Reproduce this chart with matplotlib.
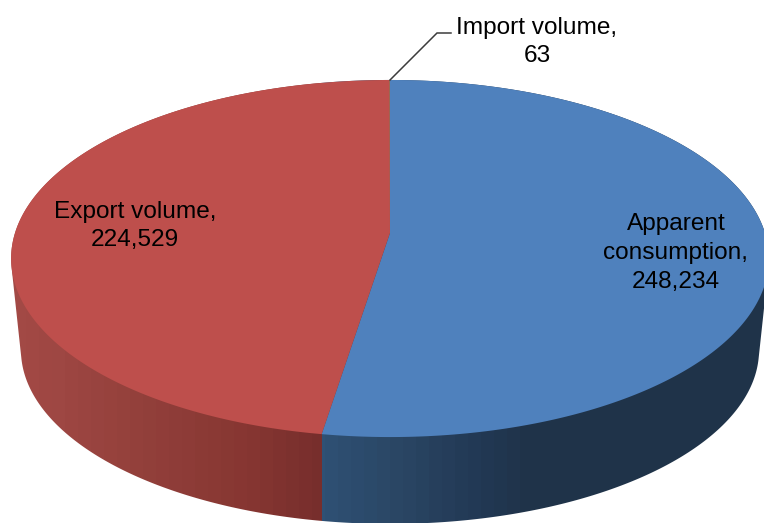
import numpy as np
import matplotlib
matplotlib.use("Agg")
import matplotlib.pyplot as plt
from matplotlib.patches import Polygon

# Data
categories = ["Apparent\nconsumption", "Export volume", "Import volume"]
values = [248234, 224529, 63]
top_colors = ["#4f81bd", "#be4f4c", "#9bbb59"]

plt.rcParams["font.family"] = ["Liberation Sans", "DejaVu Sans"]
FS = 17.55

fig = plt.figure(figsize=(7.64, 5.23), dpi=100, facecolor="white")
ax = fig.add_axes([0, 0, 1, 1])
ax.set_xlim(0, 764)
ax.set_ylim(523, 0)
ax.axis("off")

# Perspective projection of the unit disc on to the picture
X0, Y0, A, B, K = 390.0, 233.0, 375.0, -141.6, 0.1429


def top_rim(theta):
    """theta: radians clockwise from 12 o'clock"""
    X, Y = np.sin(theta), np.cos(theta)
    w = 1 + K * Y
    return X0 + A * X / w, (B * Y + Y0) / w


def bottom_rim(theta):
    x, y = top_rim(theta)
    return 390 + (x - 390) * 0.974, 350 + (y - 258.5) * 0.974


def hull(points):
    pts = sorted(map(tuple, points))

    def half(seq):
        out = []
        for p in seq:
            while len(out) >= 2 and ((out[-1][0] - out[-2][0]) * (p[1] - out[-2][1])
                                     - (out[-1][1] - out[-2][1]) * (p[0] - out[-2][0])) <= 0:
                out.pop()
            out.append(p)
        return out[:-1]

    return half(pts) + half(pts[::-1])


fractions = np.array(values, dtype=float) / np.sum(values)
edges = np.concatenate([[0], np.cumsum(fractions)]) * 2 * np.pi
split_x = top_rim(edges[1])[0]

# Side wall: one banded left-to-right shading, clipped to the silhouette of the drum
red_x = [10, 60, 140, 250, 320]
red_c = ["#a44a46", "#9e4743", "#93403b", "#863632", "#772e2c"]
blue_x = [320, 400, 470, 530, 770]
blue_c = ["#2f5175", "#2a4664", "#233a56", "#1f3349", "#1f3349"]


def ramp(x, xs, cs):
    rgb = np.array([matplotlib.colors.to_rgb(c) for c in cs])
    return np.column_stack([np.interp(x, xs, rgb[:, i]) for i in range(3)])


columns = np.arange(0, 770)
bands = (columns // 13) * 13 + 6.5
shades = np.where((columns < split_x)[:, None], ramp(bands, red_x, red_c), ramp(bands, blue_x, blue_c))
gradient = shades[None, :, :]

th = np.linspace(0, 2 * np.pi, 721)
outline = np.vstack([np.column_stack(top_rim(th)), np.column_stack(bottom_rim(th))])
clip = Polygon(hull(outline), closed=True, transform=ax.transData)
im = ax.imshow(gradient, extent=(0, 770, 523, 0), aspect="auto", interpolation="nearest", zorder=1)
ax.set_xlim(0, 764)
ax.set_ylim(523, 0)
im.set_clip_path(clip)

# Top face
for i, c in enumerate(top_colors):
    th = np.linspace(edges[i], edges[i + 1], 400)
    xr, yr = top_rim(th)
    pts = np.column_stack([np.r_[X0, xr], np.r_[Y0, yr]])
    ax.add_patch(Polygon(pts, closed=True, facecolor=c, edgecolor="none", zorder=2))


# Labels
def label(i):
    return f"{categories[i]},\n{values[i]:,}"


kw = dict(ha="center", va="center", multialignment="center", fontsize=FS, color="#000000",
          linespacing=1.39, zorder=5)
ax.text(676, 253, label(0), **kw)
ax.text(135, 226, label(1), **kw)
ax.text(537, 42, label(2), **kw)

# Leader line for the tiny slice
ax.plot([390, 437, 451], [80, 33, 33], color="#3c3c3c", lw=1.1, zorder=4, solid_joinstyle="miter")

fig.savefig("out.png", dpi=100, facecolor="white")
